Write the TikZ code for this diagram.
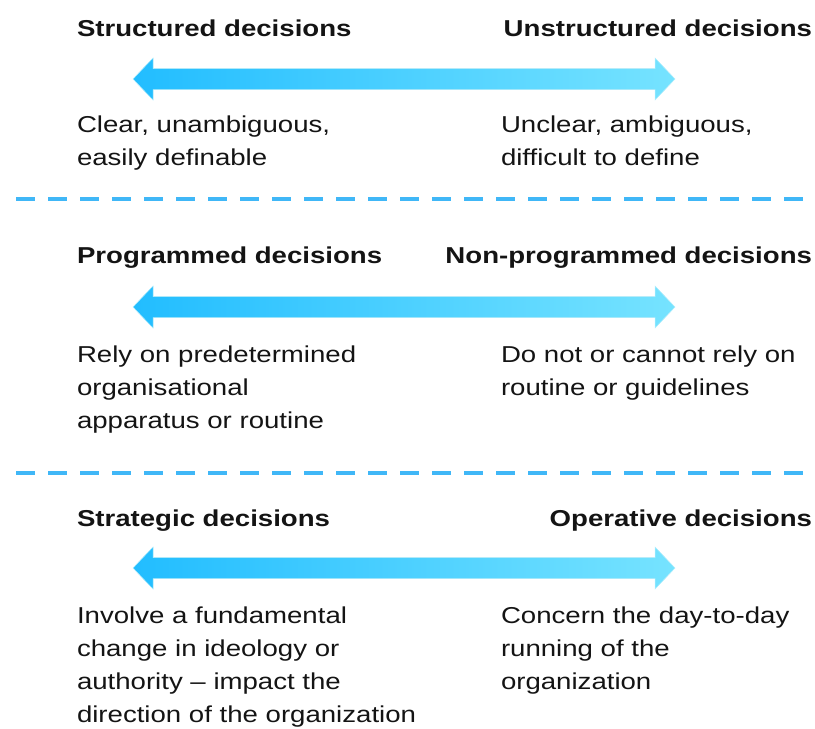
\documentclass[tikz,border=0pt]{standalone}
\usepackage{fontspec}
\setmainfont{Liberation Sans}
\usepackage{xcolor}
\definecolor{ARROWLEFT}{HTML}{22BDFF}
\definecolor{ARROWRIGHT}{HTML}{76E3FF}
\definecolor{DASHCOLOR}{HTML}{40B7F7}
\definecolor{TEXTCOLOR}{HTML}{141414}
\usetikzlibrary{positioning,calc}
\tikzset{
  basic-style/.style = {
    inner sep=0pt, outer sep=0pt,
    text=TEXTCOLOR, xscale=1.2,
    font=\fontsize{23}{33}\selectfont
  },
  title-style/.style = {
    basic-style,
    font=\fontsize{23}{33}\selectfont\bfseries,
    anchor=base #1
  },
  title-style/.default = west,
  % the base of a note is the base of its last line
  note-style/.style = {
    basic-style, align=left, anchor=base west
  },
  scale-style/.style = {
    left color=ARROWLEFT, right color=ARROWRIGHT,
    draw=ARROWRIGHT!55!white, line width=0.5pt
  },
  shadow-style/.style = {
    fill=black, opacity=#1
  },
  dash-style/.style = {
    draw=DASHCOLOR, line width=4.5pt,
    dash pattern=on 19pt off 13pt
  }
}
\newcommand\leftX{77}
\newcommand\rightX{501}
\def\createScale name:#1 at:#2;{
  \coordinate (#1-l) at (133,#2);
  \coordinate (#1-r) at (675,#2);
  \foreach \dx/\dy/\op in {0/2/0.07,1/3/0.07,2/4/0.06,1/5/0.05} {
    \fill[shadow-style=\op, shift={(\dx,\dy)}] (#1-l) -- ++(20,-21) -- ++(0,10.5)
      -- ($(#1-r)+(-20,-10.5)$) -- ++(0,-10.5) -- (#1-r) -- ++(-20,21)
      -- ++(0,-10.5) -- ($(#1-l)+(20,10.5)$) -- ++(0,10.5) -- cycle;
  }
  \shade[scale-style] (#1-l) -- ++(20,-21) -- ++(0,10.5)
    -- ($(#1-r)+(-20,-10.5)$) -- ++(0,-10.5) -- (#1-r) -- ++(-20,21)
    -- ++(0,-10.5) -- ($(#1-l)+(20,10.5)$) -- ++(0,10.5) -- cycle;
}
\def\createDivider name:#1 at:#2;{
  \coordinate (#1-a) at (16,#2);
  \coordinate (#1-b) at (804,#2);
  \draw[dash-style, draw=black, opacity=0.12, shift={(1,3)}] (#1-a) -- (#1-b);
  \draw[dash-style] (#1-a) -- (#1-b);
}

\begin{document}
\begin{tikzpicture}[x=1pt, y=-1pt]
  \useasboundingbox (0,0) rectangle (815,729);

  % structured / unstructured
  \node[title-style] (struct) at (\leftX,36) {Structured decisions};
  \node[title-style=east] (unstruct) at (812,36) {Unstructured decisions};
  \createScale name:scaleA at:79;
  \node[note-style] (structNote) at (\leftX,165) {Clear, unambiguous,\\easily definable};
  \node[note-style] (unstructNote) at (\rightX,165) {Unclear, ambiguous,\\difficult to define};

  \createDivider name:divA at:199;

  % programmed / non-programmed
  \node[title-style] (prog) at (\leftX,263) {Programmed decisions};
  \node[title-style=east] (nonprog) at (812,263) {Non-programmed decisions};
  \createScale name:scaleB at:307;
  \node[note-style] (progNote) at (\leftX,428) {Rely on predetermined\\organisational\\apparatus or routine};
  \node[note-style] (nonprogNote) at (\rightX,395) {Do not or cannot rely on\\routine or guidelines};

  \createDivider name:divB at:473;

  % strategic / operative
  \node[title-style] (strat) at (\leftX,526) {Strategic decisions};
  \node[title-style=east] (oper) at (812,526) {Operative decisions};
  \createScale name:scaleC at:568;
  \node[note-style] (stratNote) at (\leftX,722) {Involve a fundamental\\change in ideology or\\authority -- impact the\\direction of the organization};
  \node[note-style] (operNote) at (\rightX,689) {Concern the day-to-day\\running of the\\organization};
\end{tikzpicture}
\end{document}
